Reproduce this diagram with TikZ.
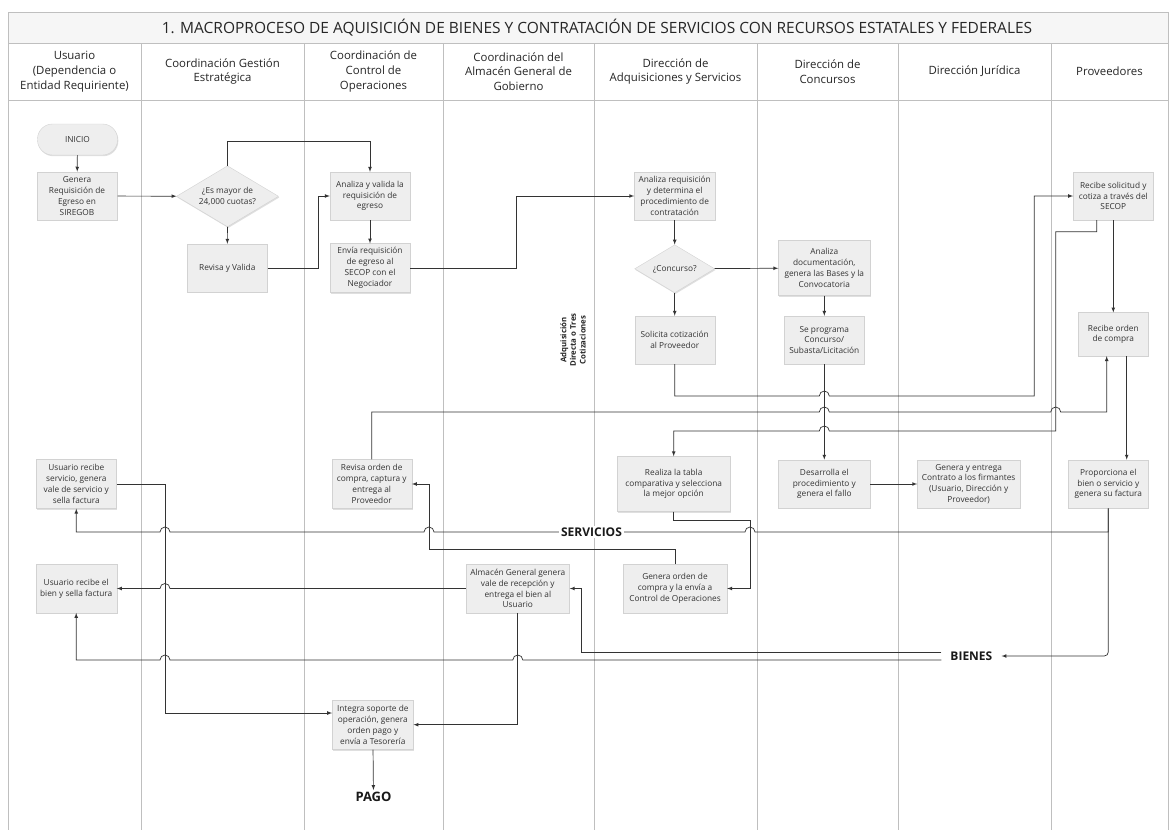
\documentclass[tikz,border=0pt]{standalone}
\usepackage{fontspec}
\setmainfont{Open Sans}
\usetikzlibrary{positioning,arrows,shapes.geometric,shadows}
\tikzset{
  lane/.style={draw=gray!50, line width=0.8pt},
  wh/.style 2 args={minimum width=#1pt, minimum height=#2pt},
  box/.style={draw=gray!35, fill=gray!13, text=black!80, align=center, inner sep=1pt,
    font=\fontsize{8.3}{10.8}\selectfont,
    drop shadow={opacity=0.25, shadow xshift=0.8pt, shadow yshift=-1.2pt}},
  decision/.style={box, diamond, aspect=1.7, inner sep=0pt},
  head/.style={align=center, text=black!85, font=\fontsize{11.4}{14.8}\selectfont},
  flow/.style={draw=black!80, line width=0.7pt, -latex},
  tag/.style={font=\bfseries\fontsize{12}{14}\selectfont, text=black!90, inner sep=2pt}
}
\begin{document}
\begin{tikzpicture}[x=1pt, y=-1pt]
  \useasboundingbox (0,0) rectangle (1171,830);
  \fill[white] (0,0) rectangle (1171,830);
  % lanes and header
  \fill[gray!7] (8,12) rectangle (1168,43);
  \draw[lane] (8,830) -- (8,12) -- (1168,12) -- (1168,830);
  \draw[lane] (8,43) -- (1168,43) (8,100) -- (1168,100);
  \foreach \x in {141,304,443,594,757,898,1051}
    \draw[lane] (\x,43) -- (\x,830);
  \node[font=\fontsize{15.5}{18}\selectfont, text=black!85] (title) at (597,28)
    {1. MACROPROCESO DE AQUISICIÓN DE BIENES Y CONTRATACIÓN DE SERVICIOS CON RECURSOS ESTATALES Y FEDERALES};
  \node[head] (usuario) at (74.5,71.5) {Usuario\\(Dependencia o\\Entidad Requiriente)};
  \node[head] (gestion) at (222.5,71.5) {Coordinación Gestión\\Estratégica};
  \node[head] (control) at (373.5,71.5) {Coordinación de\\Control de\\Operaciones};
  \node[head] (almhead) at (518.5,71.5) {Coordinación del\\Almacén General de\\Gobierno};
  \node[head] (adq) at (675.5,71.5) {Dirección de\\Adquisiciones y Servicios};
  \node[head] (concursos) at (827.5,71.5) {Dirección de\\Concursos};
  \node[head] (juridica) at (974.5,71.5) {Dirección Jurídica};
  \node[head] (proveedores) at (1109.5,71.5) {Proveedores};

  % steps
  \node[box, wh={80}{31}, rounded corners=15pt] (inicio) at (77.5,139.5) {INICIO};
  \node[box, wh={80.6}{48.3}] (genera) at (77,196) {Genera\\Requisición de\\Egreso en\\SIREGOB};
  \node[decision, wh={102}{61}] (mayor) at (227.5,196.3) {¿Es mayor de\\24,000 cuotas?};
  \node[box, wh={80}{48}] (revisa) at (227.3,268) {Revisa y Valida};
  \node[box, wh={80}{48}] (valida) at (370,196) {Analiza y valida la\\requisición de\\egreso};
  \node[box, wh={80}{48.7}] (envia) at (370,268) {Envía requisición\\de egreso al\\SECOP con el\\Negociador};
  \node[box, wh={80.7}{48}] (analreq) at (674.7,196) {Analiza requisición\\y determina el\\procedimiento de\\contratación};
  \node[decision, wh={80}{48}] (concurso) at (674.7,268.8) {¿Concurso?};
  \node[box, wh={91.7}{55}] (analdoc) at (824.3,268) {Analiza\\documentación,\\genera las Bases y la\\Convocatoria};
  \node[box, wh={80}{48}] (solicita) at (674.7,340) {Solicita cotización\\al Proveedor};
  \node[box, wh={80}{48}] (programa) at (824.3,340) {Se programa\\Concurso/\\Subasta/Licitación};
  \node[font=\bfseries\fontsize{7.8}{9.6}\selectfont, text=black!85, align=center, rotate=90]
    (directa) at (573,340) {Adquisición\\Directa o Tres\\Cotizaciones};
  \node[box, wh={80}{48}] (recsol) at (1113.3,196) {Recibe solicitud y\\cotiza a través del\\SECOP};
  \node[box, wh={70}{43.3}] (recorden) at (1113.3,334.3) {Recibe orden\\de compra};
  \node[box, wh={80.7}{49}] (srv) at (76.3,484) {Usuario recibe\\servicio, genera\\vale de servicio y\\sella factura};
  \node[box, wh={80}{49}] (revorden) at (371.7,484) {Revisa orden de\\compra, captura y\\entrega al\\Proveedor};
  \node[box, wh={112.7}{55}] (tabla) at (673.7,484) {Realiza la tabla\\comparativa y selecciona\\la mejor opción};
  \node[box, wh={91.7}{48.3}] (desarrolla) at (824.3,484) {Desarrolla el\\procedimiento y\\genera el fallo};
  \node[box, wh={102.7}{48.3}] (contrato) at (968.7,484) {Genera y entrega\\Contrato a los firmantes\\(Usuario, Dirección y\\Proveedor)};
  \node[box, wh={80}{48.3}] (prop) at (1108.3,484) {Proporciona el\\bien o servicio y\\genera su factura};
  \node[box, wh={81}{48.4}] (bien) at (76.2,588.5) {Usuario recibe el\\bien y sella factura};
  \node[box, wh={103.5}{48.4}] (alm) at (517.8,588.5) {Almacén General genera\\vale de recepción y\\entrega el bien al\\Usuario};
  \node[box, wh={104}{48.4}] (orden) at (675,588.5) {Genera orden de\\compra y la envía a\\Control de Operaciones};
  \node[box, wh={81}{49.3}] (integra) at (372.8,724.7) {Integra soporte de\\operación, genera\\orden pago y\\envía a Tesorería};
  \node[tag, font=\bfseries\fontsize{13}{15}\selectfont] (pago) at (373.5,797) {PAGO};
  \node[tag, inner xsep=9pt] (bienes) at (971.4,656) {BIENES};

  % connectors
  \draw[flow] (inicio) -- (genera);
  \draw[flow] (genera) -- (mayor);
  \draw[flow] (mayor.north) -- (227.5,141.7) -| (valida.north);
  \draw[flow] (mayor) -- (revisa);
  \draw[flow] (revisa.east) -| (318.3,196) -- (valida.west);
  \draw[flow] (valida) -- (envia);
  \draw[flow] (envia.east) -| (516,196) -- (analreq.west);
  \draw[flow] (analreq) -- (concurso);
  \draw[flow] (concurso) -- (analdoc);
  \draw[flow] (concurso) -- (solicita);
  \draw[flow] (analdoc) -- (programa);
  \draw[flow] (programa) -- (desarrolla);
  \draw[flow] (solicita.south) -- (674.7,396) -- (819.3,396)
    arc[start angle=180, end angle=0, radius=5pt] -- (1034.3,396) |- (recsol.west);
  \draw[flow] (revorden.north) |- (819.3,412) arc[start angle=180, end angle=0, radius=5pt]
    -- (1050.7,412) arc[start angle=180, end angle=0, radius=5pt]
    -- (1106.7,412) -- ([xshift=-6.6pt]recorden.south);
  \draw[flow] (recsol) -- (recorden);
  \draw[flow] ([xshift=-16.6pt]recsol.south) |- (1055.7,231.7) -- (1055.7,431) -- (829.3,431)
    arc[start angle=0, end angle=180, radius=5pt] -- (673.7,431) -- (tabla.north);
  \draw[flow] ([xshift=13.4pt]recorden.south) -- ([xshift=18.4pt]prop.north);
  \draw[flow] (desarrolla) -- (contrato);
  \draw[flow] (tabla.south) |- (750,520) -- (750,588.5) -- (orden.east);
  \draw[flow] (orden.north) |- (429,549) |- (revorden.east);
  \draw[flow] (srv.east) -| (165,713) -- ([yshift=11.7pt]integra.west);
  \draw[flow] (prop.south) -- (1108.3,532) -- (755,532) arc[start angle=0, end angle=180, radius=5pt]
    -- (434,532) arc[start angle=0, end angle=180, radius=5pt]
    -- (170,532) arc[start angle=0, end angle=180, radius=5pt] -- (76.3,532) -- (srv.south);
  \node[tag, fill=white] (servicios) at (591.5,532) {SERVICIOS};
  \draw[flow] (alm.west) -- (170,588.5) arc[start angle=0, end angle=180, radius=5pt] -- (bien.east);
  \draw[flow] (alm.south) |- (integra.east);
  \draw[flow] (integra) -- (pago);
  \draw[flow, rounded corners=4pt] (prop.south) |- (bienes.east);
  \draw[flow] ([yshift=4pt]bienes.west) -| (581.7,588.5) -- (alm.east);
  \draw[flow] ([yshift=-4pt]bienes.west) -- (522.8,660) arc[start angle=0, end angle=180, radius=5pt]
    -- (170,660) arc[start angle=0, end angle=180, radius=5pt] -- (76.2,660) -- (bien.south);
\end{tikzpicture}
\end{document}
